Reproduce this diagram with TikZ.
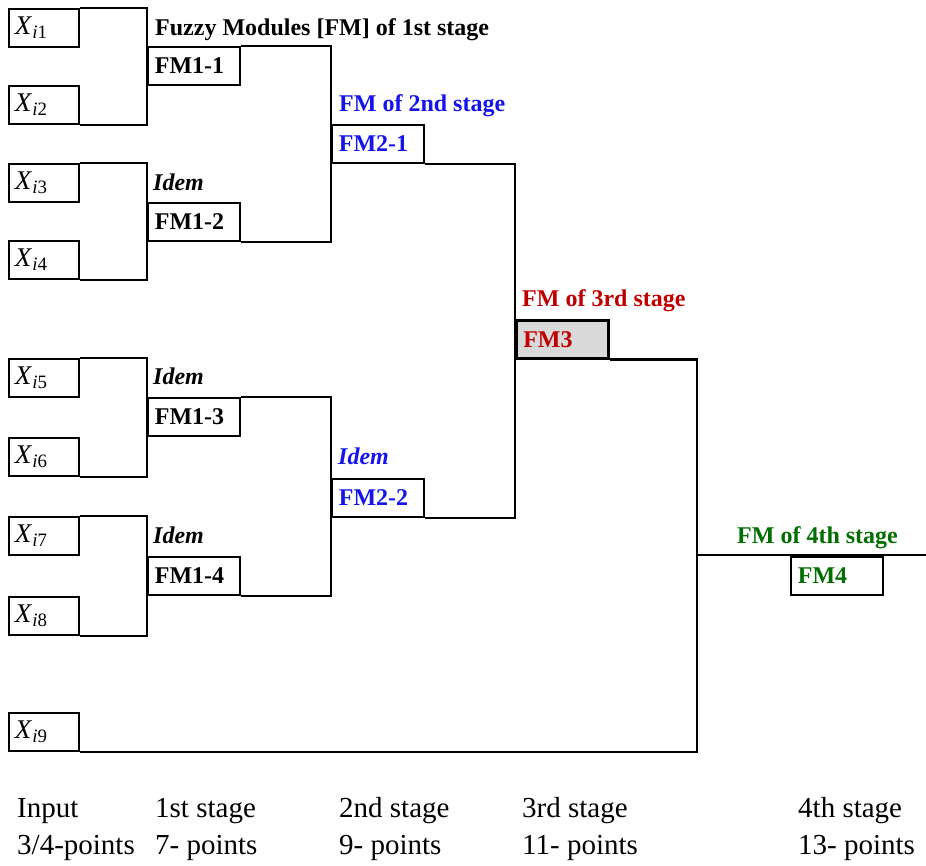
\documentclass[tikz,border=0pt]{standalone}
\usepackage{fontspec}
\setmainfont{Liberation Serif}
\newfontfamily\tms{Liberation Serif}
\usetikzlibrary{positioning}
\definecolor{fmblue}{RGB}{20,20,235}
\definecolor{fmred}{RGB}{192,0,0}
\definecolor{fmgreen}{RGB}{0,110,0}
\definecolor{fmgray}{RGB}{217,217,217}
\newcommand{\xin}[1]{\textit{X}\textsubscript{\textit{i}#1}}

\begin{document}
\begin{tikzpicture}[x=1pt, y=-1pt,
		wire/.style={line width=1.8pt},
		inbox/.style={draw, wire, anchor=north west, minimum height=38pt, text width=58pt, inner xsep=6pt, inner ysep=0pt, align=left, font=\tms\fontsize{27}{30}\selectfont},
		fmbox/.style={draw, wire, anchor=north west, minimum height=38pt, text width=78pt, inner xsep=7pt, inner ysep=0pt, align=left, font=\tms\fontsize{24}{28}\selectfont\bfseries},
		stagelbl/.style={anchor=base west, inner sep=0pt, font=\tms\fontsize{24}{28}\selectfont\bfseries},
		idemlbl/.style={stagelbl, font=\tms\fontsize{24}{28}\selectfont\bfseries\itshape},
		stagetxt/.style={anchor=base west, inner sep=0pt, font=\tms\fontsize{29}{35}\selectfont}]
	\useasboundingbox (0,0) rectangle (926,865);
	\node (x1) [inbox] at (8,8) {\xin{1}};
	\node (x2) [inbox] at (8,85) {\xin{2}};
	\node (x3) [inbox] at (8,163) {\xin{3}};
	\node (x4) [inbox] at (8,240) {\xin{4}};
	\node (x5) [inbox] at (8,358) {\xin{5}};
	\node (x6) [inbox] at (8,437) {\xin{6}};
	\node (x7) [inbox] at (8,516) {\xin{7}};
	\node (x8) [inbox] at (8,596) {\xin{8}};
	\node (x9) [inbox] at (8,712) {\xin{9}};
	\node (fm11) [fmbox] at (147,46) {FM1-1};
	\node (fm12) [fmbox] at (147,202) {FM1-2};
	\node (fm13) [fmbox] at (147,397) {FM1-3};
	\node (fm14) [fmbox] at (147,556) {FM1-4};
	\node (fm21) [fmbox, text=fmblue] at (331,124) {FM2-1};
	\node (fm22) [fmbox, text=fmblue] at (331,478) {FM2-2};
	\node (fm3) [fmbox, line width=2.6pt, fill=fmgray, text=fmred] at (515,319) {FM3};
	\node (fm4) [fmbox, text=fmgreen] at (790,556) {FM4};
	\coordinate (j4) at (697,555);
	\coordinate (fmout) at (926,555);
	\draw[wire] (x1.north east) -| (fm11.south west) |- (x2.south east);
	\draw[wire] (x3.north east) -| (fm12.south west) |- (x4.south east);
	\draw[wire] (x5.north east) -| (fm13.south west) |- (x6.south east);
	\draw[wire] (x7.north east) -| (fm14.south west) |- (x8.south east);
	\draw[wire] (fm11.north east) -| (fm21.south west) |- (fm12.south east);
	\draw[wire] (fm13.north east) -| (fm22.south west) |- (fm14.south east);
	\draw[wire] (fm21.south east) -| (fm3.south west) |- (fm22.south east);
	\draw[wire] (x9.south east) -- (fm3.south east |- x9.south east);
	\draw[wire, line width=2.6pt] (fm3.south east) -| (j4) |- (fm3.south east |- x9.south east);
	\draw[wire] (j4) -- (fmout);
	\node (t1) [stagelbl] at (155,35) {Fuzzy Modules [FM] of 1st stage};
	\node (t2) [stagelbl, text=fmblue] at (339,111) {FM of 2nd stage};
	\node (t3) [stagelbl, text=fmred] at (522,306) {FM of 3rd stage};
	\node (t4) [stagelbl, text=fmgreen] at (737,543) {FM of 4th stage};
	\node (i12) [idemlbl] at (153,190) {Idem};
	\node (i13) [idemlbl] at (153,384) {Idem};
	\node (i14) [idemlbl] at (153,543) {Idem};
	\node (i22) [idemlbl, text=fmblue] at (338,464) {Idem};
	\foreach \cid/\xx/\stg/\pts in {c0/17/Input/{3/4-points}, c1/155/1st stage/7- points, c2/339/2nd stage/9- points, c3/522/3rd stage/11- points, c4/798/4th stage/13- points}{
		\node (\cid a) [stagetxt] at (\xx,817) {\stg};
		\node (\cid b) [stagetxt] at (\xx,854) {\pts};
	}
\end{tikzpicture}
\end{document}
